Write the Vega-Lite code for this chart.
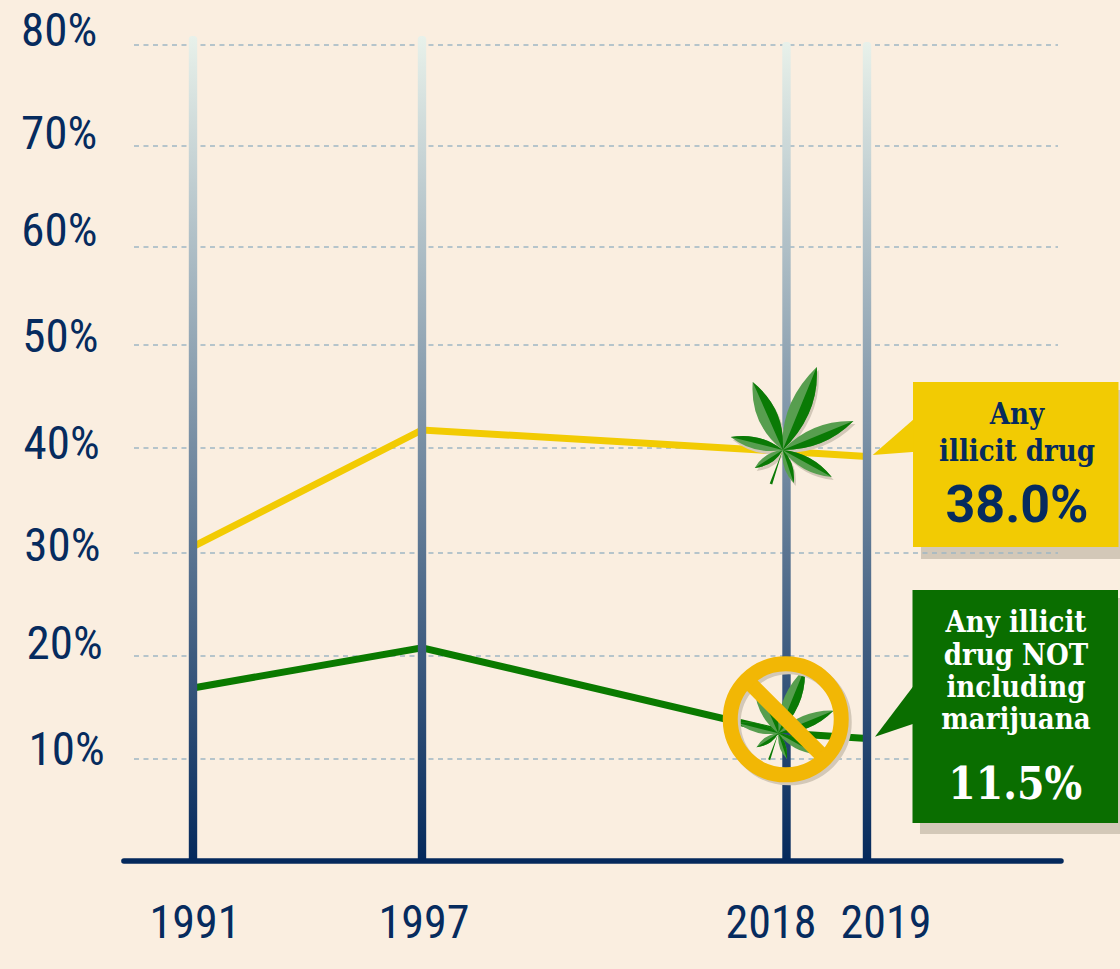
{"$schema":"https://vega.github.io/schema/vega-lite/v6.json","width":1120,"height":969,"padding":0,"autosize":{"type":"none"},"background":"#faeee0","view":{"stroke":null},
"datasets":{
"grid":[{"x":1989.454,"x2":2024.285,"y":10},{"x":1989.454,"x2":2024.285,"y":20},{"x":1989.454,"x2":2024.285,"y":30},{"x":1989.454,"x2":2024.285,"y":40},{"x":1989.454,"x2":2024.285,"y":50},{"x":1989.454,"x2":2024.285,"y":60},{"x":1989.454,"x2":2024.285,"y":70},{"x":1989.454,"x2":2024.285,"y":80}],
"series":[{"x":1991,"y":30.6,"series":"Any illicit drug"},{"x":1997,"y":41.75,"series":"Any illicit drug"},{"x":2018,"y":39.66,"series":"Any illicit drug"},{"x":2019,"y":39.2,"series":"Any illicit drug"},{"x":1991,"y":16.9,"series":"Any illicit drug NOT including marijuana"},{"x":1997,"y":20.8,"series":"Any illicit drug NOT including marijuana"},{"x":2018,"y":12.5,"series":"Any illicit drug NOT including marijuana"},{"x":2019,"y":12.0,"series":"Any illicit drug NOT including marijuana"}],
"years":[{"x":1990.89,"x2":1991.11,"y":80.88,"y2":0},{"x":1996.89,"x2":1997.242,"y":80.88,"y2":0},{"x":2017.786,"x2":2018.058,"y":80.3,"y2":0},{"x":2018.948,"x2":2019.116,"y":80.3,"y2":0}],
"baseline":[{"x":1989.19,"x2":2024.368,"y":0}],
"shadows":[{"x":2020.494,"x2":2026,"y":45.63,"y2":29.42},{"x":2020.466,"x2":2026,"y":25.63,"y2":2.647}],
"boxes":[{"x":2020.273,"x2":2025.958,"y":46.41,"y2":30.57,"series":"Any illicit drug"},{"x":2020.259,"x2":2025.945,"y":26.41,"y2":3.725,"series":"Any illicit drug NOT including marijuana"}],
"pointerY":[{"x":2019.158,"y":39.33}],
"pointerG":[{"x":2019.221,"y":12.17}],
"leaf1":[{"x":2017.81,"y":39.81}],
"leaf2":[{"x":2017.556,"y":12.5}],
"ring":[{"x":2017.985,"y":13.85}],
"slash":[{"x":2015.75,"x2":2018.478,"y":17.64,"y2":10.1}],
"yLabels":[{"x":1986.494,"y":79.9,"t":"80%"},{"x":1986.494,"y":69.7,"t":"70%"},{"x":1986.5,"y":60.1,"t":"60%"},{"x":1986.53,"y":49.33,"t":"50%"},{"x":1986.56,"y":38.97,"t":"40%"},{"x":1986.58,"y":29.23,"t":"30%"},{"x":1986.64,"y":19.72,"t":"20%"},{"x":1986.69,"y":9.42,"t":"10%"}],
"xLabels":[{"x":1991.052,"y":-7.56,"t":"1991"},{"x":1997.115,"y":-7.56,"t":"1997"},{"x":2017.134,"y":-7.56,"t":"2018"},{"x":2019.526,"y":-7.56,"t":"2019"}],
"boxTextY":[{"x":2023.15,"y":42.33,"t":"Any"},{"x":2023.15,"y":38.79,"t":"illicit drug"}],
"boxTextG":[{"x":2023.12,"y":22.36,"t":"Any illicit"},{"x":2023.12,"y":19.13,"t":"drug NOT"},{"x":2023.12,"y":16.05,"t":"including"},{"x":2023.12,"y":12.91,"t":"marijuana"}],
"valY":[{"x":2023.15,"y":32.98,"t":"38.0%"}],
"valG":[{"x":2023.1,"y":6.05,"t":"11.5%"}]
},
"encoding":{
"x":{"field":"x","type":"quantitative","axis":null,"scale":{"type":"linear","nice":false,"zero":false,"domain":[1985.944,1991,1997,2018,2019,2026],"range":[0,193,422,786,867,1120]}},
"y":{"field":"y","type":"quantitative","axis":null,"scale":{"type":"linear","nice":false,"zero":false,"domain":[-10.6,0,10,20,30,40,50,60,70,80,84.4],"range":[969,861,759,656,553,448,345,247,146,45,0]}}
},
"layer":[
{"data":{"name":"shadows"},"mark":{"type":"rect","fill":"#d3c8b8"},"encoding":{"x2":{"field":"x2"},"y2":{"field":"y2"}}},
{"data":{"name":"grid"},"mark":{"type":"rule","stroke":"#9fb6c4","strokeWidth":1.6,"strokeDash":[5,4.5]},"encoding":{"x2":{"field":"x2"}}},
{"data":{"name":"series"},"mark":{"type":"line","strokeWidth":7,"strokeCap":"butt"},"encoding":{"color":{"field":"series","type":"nominal","legend":null,"scale":{"domain":["Any illicit drug","Any illicit drug NOT including marijuana"],"range":["#f2cb03","#0a7a00"]}},"order":{"field":"x"}}},
{"data":{"name":"years"},"mark":{"type":"rect","cornerRadiusTopLeft":3,"cornerRadiusTopRight":3,"fill":{"gradient":"linear","x1":0,"y1":0,"x2":0,"y2":1,"stops":[{"offset":0,"color":"#e8f1ea"},{"offset":1,"color":"#04295c"}]}},"encoding":{"x2":{"field":"x2"},"y2":{"field":"y2"}}},
{"data":{"name":"baseline"},"mark":{"type":"rule","stroke":"#04295c","strokeWidth":5.5,"strokeCap":"round"},"encoding":{"x2":{"field":"x2"}}},
{"data":{"name":"pointerY"},"mark":{"type":"point","filled":true,"opacity":1,"size":4,"color":"#f2cb03","shape":"M0 0L43 -37.5L43 -3.4Z"}},
{"data":{"name":"pointerG"},"mark":{"type":"point","filled":true,"opacity":1,"size":4,"color":"#0a6e00","shape":"M0 0L40 -52.6L40 -13.4Z"}},
{"data":{"name":"boxes"},"mark":{"type":"rect"},"encoding":{"x2":{"field":"x2"},"y2":{"field":"y2"},"fill":{"field":"series","type":"nominal","legend":null,"scale":{"domain":["Any illicit drug","Any illicit drug NOT including marijuana"],"range":["#f2cb03","#0a6e00"]}}}},
{"data":{"name":"leaf1"},"mark":{"type":"point","filled":true,"opacity":1,"size":4,"xOffset":2,"yOffset":3,"color":"#d3c8b8","shape":"M0 0Q37 -36 34 -83Q-3 -47 0 0ZM0 0Q3 -41 -30 -68Q-33 -26 0 0ZM0 0Q29 -30 70.7 -29Q42 0 0 0ZM0 0Q-23 -18 -52 -13Q-29 5 0 0ZM0 0Q30 3 49 27Q18 24 0 0ZM0 0Q-19 2 -28 18Q-9 16 0 0ZM0 0Q13 13 11 33Q-2 20 0 0Z"}},
{"data":{"name":"leaf1"},"mark":{"type":"point","filled":true,"opacity":1,"size":4,"color":"#579e4f","shape":"M0 0Q37 -36 34 -83Q-3 -47 0 0ZM0 0Q3 -41 -30 -68Q-33 -26 0 0ZM0 0Q29 -30 70.7 -29Q42 0 0 0ZM0 0Q-23 -18 -52 -13Q-29 5 0 0ZM0 0Q30 3 49 27Q18 24 0 0ZM0 0Q-19 2 -28 18Q-9 16 0 0ZM0 0Q13 13 11 33Q-2 20 0 0Z"}},
{"data":{"name":"leaf1"},"mark":{"type":"point","filled":true,"opacity":1,"size":4,"color":"#0a7a05","shape":"M0 0Q37 -36 34 -83ZM0 0Q3 -41 -30 -68ZM0 0Q42 0 70.7 -29ZM0 0Q-23 -18 -52 -13ZM0 0Q30 3 49 27ZM0 0Q-9 16 -28 18ZM0 0Q13 13 11 33ZM0 0L-10.5 34.5L-13 33.5Z"}},
{"data":{"name":"leaf2"},"mark":{"type":"point","filled":true,"opacity":1,"size":2.43,"color":"#579e4f","shape":"M0 0Q37 -36 34 -83Q-3 -47 0 0ZM0 0Q3 -41 -30 -68Q-33 -26 0 0ZM0 0Q29 -30 70.7 -29Q42 0 0 0ZM0 0Q-23 -18 -52 -13Q-29 5 0 0ZM0 0Q30 3 49 27Q18 24 0 0ZM0 0Q-19 2 -28 18Q-9 16 0 0ZM0 0Q13 13 11 33Q-2 20 0 0Z"}},
{"data":{"name":"leaf2"},"mark":{"type":"point","filled":true,"opacity":1,"size":2.43,"color":"#0a7a05","shape":"M0 0Q37 -36 34 -83ZM0 0Q3 -41 -30 -68ZM0 0Q42 0 70.7 -29ZM0 0Q-23 -18 -52 -13ZM0 0Q30 3 49 27ZM0 0Q-9 16 -28 18ZM0 0Q13 13 11 33ZM0 0L-10.5 34.5L-13 33.5Z"}},
{"data":{"name":"ring"},"mark":{"type":"point","shape":"circle","filled":false,"opacity":1,"size":12321,"strokeWidth":15,"stroke":"#d3c8b8","xOffset":3,"yOffset":3}},
{"data":{"name":"slash"},"mark":{"type":"rule","stroke":"#f2b705","strokeWidth":15},"encoding":{"x2":{"field":"x2"},"y2":{"field":"y2"}}},
{"data":{"name":"ring"},"mark":{"type":"point","shape":"circle","filled":false,"opacity":1,"size":12321,"strokeWidth":15,"stroke":"#f2b705"}},
{"data":{"name":"yLabels"},"mark":{"type":"text","align":"left","baseline":"alphabetic","font":"Roboto Condensed","fontSize":47,"color":"#062b5e"},"encoding":{"text":{"field":"t"}}},
{"data":{"name":"xLabels"},"mark":{"type":"text","align":"center","baseline":"alphabetic","font":"Roboto Condensed","fontSize":46,"color":"#062b5e"},"encoding":{"text":{"field":"t"}}},
{"data":{"name":"boxTextY"},"mark":{"type":"text","align":"center","baseline":"alphabetic","font":"DejaVu Serif Condensed","fontWeight":"bold","fontSize":29,"color":"#062b5e"},"encoding":{"text":{"field":"t"}}},
{"data":{"name":"boxTextG"},"mark":{"type":"text","align":"center","baseline":"alphabetic","font":"DejaVu Serif Condensed","fontWeight":"bold","fontSize":29,"color":"#ffffff"},"encoding":{"text":{"field":"t"}}},
{"data":{"name":"valY"},"mark":{"type":"text","align":"center","baseline":"alphabetic","font":"Roboto","fontWeight":"bold","fontSize":52,"color":"#062b5e"},"encoding":{"text":{"field":"t"}}},
{"data":{"name":"valG"},"mark":{"type":"text","align":"center","baseline":"alphabetic","font":"DejaVu Serif Condensed","fontWeight":"bold","fontSize":44,"color":"#ffffff"},"encoding":{"text":{"field":"t"}}}
]}
